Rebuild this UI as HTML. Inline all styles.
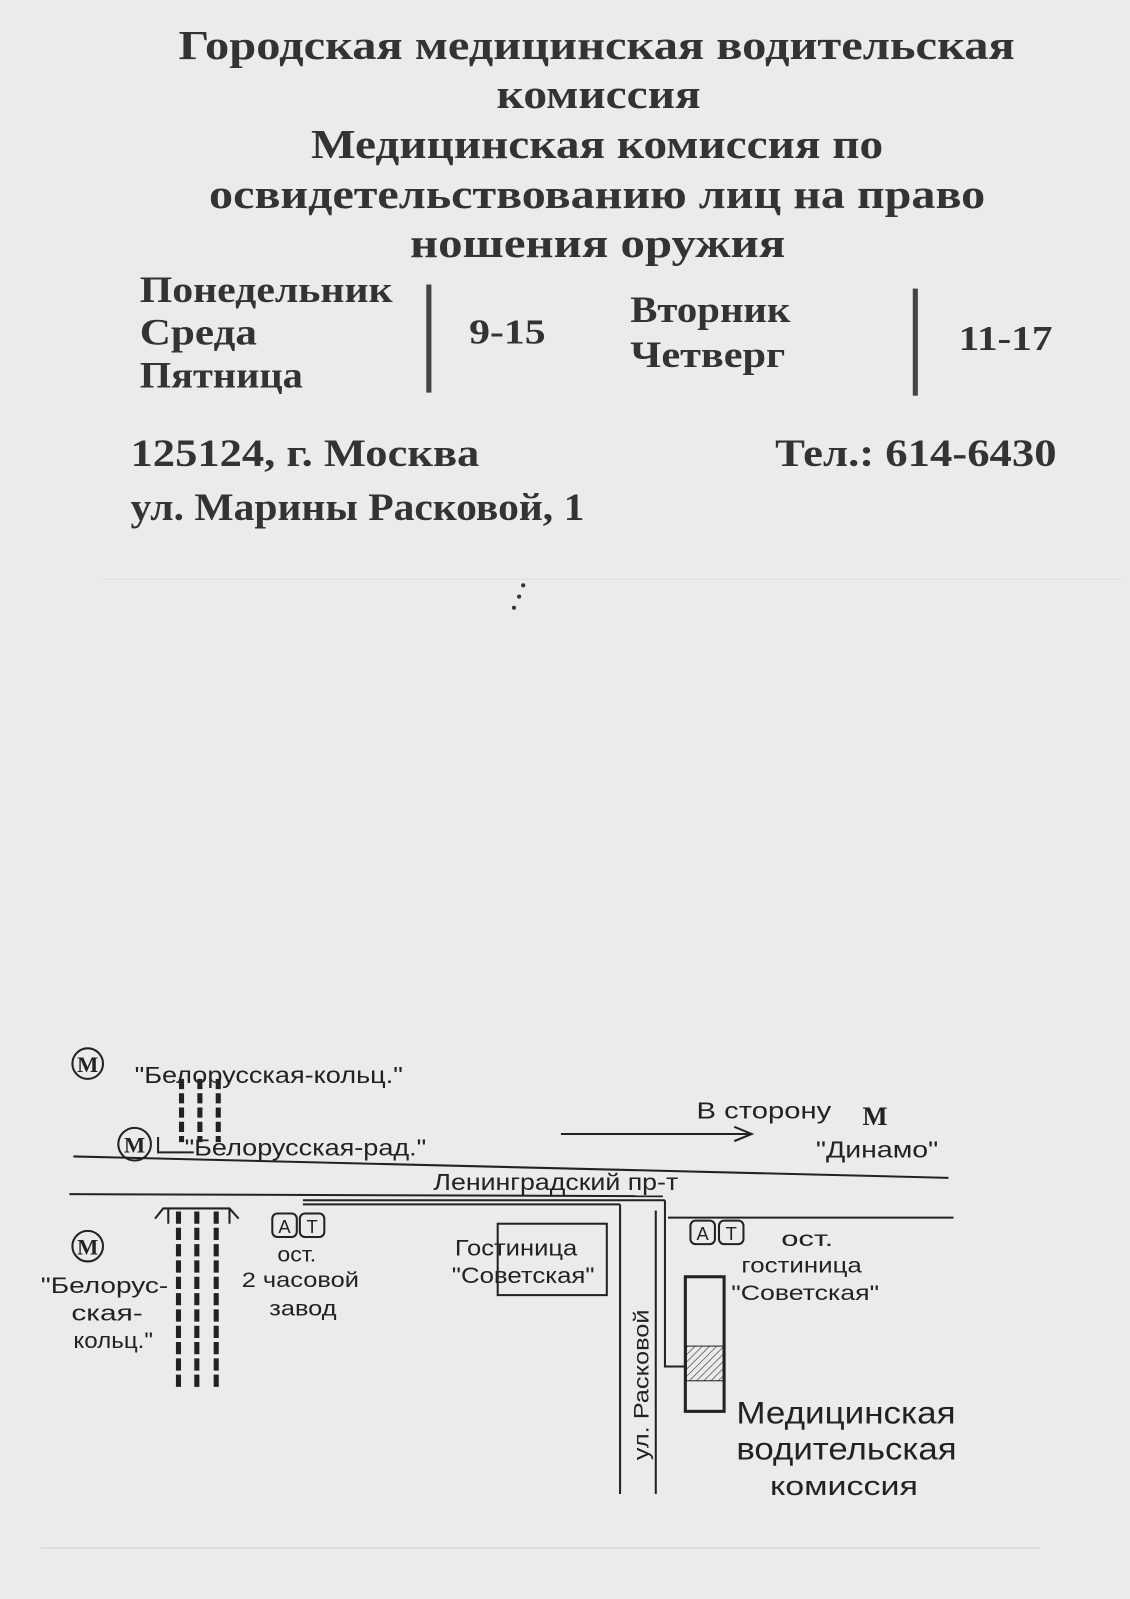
<!DOCTYPE html>
<html><head><meta charset="utf-8"><style>
html,body{margin:0;padding:0;background:#ebebeb;}
svg{display:block}
.t{font-family:"Liberation Serif",serif;font-weight:bold;fill:#333;}
.s{font-family:"Liberation Sans",sans-serif;fill:#222;}
</style></head><body>
<svg width="1130" height="1599" viewBox="0 0 1108 1568" preserveAspectRatio="none" xmlns="http://www.w3.org/2000/svg">
<rect width="1108" height="1568" fill="#ebebeb"/>
<g class="t" font-size="40">
<text x="175" y="58" textLength="820" lengthAdjust="spacingAndGlyphs">Городская медицинская водительская</text>
<text x="487" y="106" textLength="200" lengthAdjust="spacingAndGlyphs">комиссия</text>
<text x="305" y="155" textLength="561" lengthAdjust="spacingAndGlyphs">Медицинская комиссия по</text>
<text x="205" y="204" textLength="761" lengthAdjust="spacingAndGlyphs">освидетельствованию лиц на право</text>
<text x="402" y="252" textLength="368" lengthAdjust="spacingAndGlyphs">ношения оружия</text>
</g>
<g class="t" font-size="36">
<text x="137" y="296" textLength="248" lengthAdjust="spacingAndGlyphs">Понедельник</text>
<text x="137" y="338" textLength="115" lengthAdjust="spacingAndGlyphs">Среда</text>
<text x="137" y="380" textLength="160" lengthAdjust="spacingAndGlyphs">Пятница</text>
<text x="618" y="316" textLength="157" lengthAdjust="spacingAndGlyphs">Вторник</text>
<text x="618" y="360" textLength="152" lengthAdjust="spacingAndGlyphs">Четверг</text>
</g>
<g class="t" font-size="34" font-weight="normal">
<text x="460" y="337" textLength="75" lengthAdjust="spacingAndGlyphs">9-15</text>
<text x="940" y="343" textLength="92" lengthAdjust="spacingAndGlyphs">11-17</text>
</g>
<rect x="418" y="279" width="5" height="106" fill="#444"/>
<rect x="895" y="283" width="5" height="105" fill="#444"/>
<g class="t" font-size="38">
<text x="128" y="457" textLength="342" lengthAdjust="spacingAndGlyphs">125124, г. Москва</text>
<text x="128" y="510" textLength="445" lengthAdjust="spacingAndGlyphs">ул. Марины Расковой, 1</text>
<text x="760" y="457" textLength="276" lengthAdjust="spacingAndGlyphs">Тел.: 614-6430</text>
</g>
<line x1="100" y1="568" x2="1100" y2="568" stroke="#ddd" stroke-width="1"/>
<line x1="40" y1="1518" x2="1020" y2="1518" stroke="#ccc" stroke-width="1"/>

<g stroke="#222" fill="none" stroke-width="2">
<line x1="72" y1="1134" x2="930" y2="1155"/>
<line x1="68" y1="1171" x2="650" y2="1173"/>
<line x1="297" y1="1177" x2="652" y2="1177"/>
<line x1="297" y1="1181" x2="608" y2="1181"/>
<line x1="608" y1="1181" x2="608" y2="1465"/>
<line x1="643" y1="1187" x2="643" y2="1465"/>
<polyline points="652,1177 652,1340 672,1340"/>
<line x1="655" y1="1194" x2="935" y2="1194"/>
<line x1="550" y1="1112" x2="735" y2="1112"/>
<polyline points="720,1105 737,1112 720,1119"/>
<rect x="488" y="1200" width="107" height="70"/>
<rect x="672" y="1252" width="38" height="132" stroke-width="3"/>
<circle cx="86" cy="1043" r="15"/>
<circle cx="132" cy="1122" r="16"/>
<circle cx="86" cy="1222" r="15"/>
<rect x="267" y="1190" width="24" height="23" rx="5"/>
<rect x="294" y="1190" width="24" height="23" rx="5"/>
<rect x="677" y="1197" width="24" height="23" rx="5"/>
<rect x="705" y="1197" width="24" height="23" rx="5"/>
<g stroke-width="5"><line x1="178" y1="1058" x2="178" y2="1120" stroke-dasharray="10 4"/><line x1="196" y1="1058" x2="196" y2="1120" stroke-dasharray="10 4"/><line x1="214" y1="1058" x2="214" y2="1120" stroke-dasharray="10 4"/></g>
<polyline points="155,1115 155,1130 190,1130"/>
<g stroke-width="5"><line x1="175" y1="1188" x2="175" y2="1360" stroke-dasharray="12 4"/><line x1="193" y1="1188" x2="193" y2="1360" stroke-dasharray="12 4"/><line x1="212" y1="1188" x2="212" y2="1360" stroke-dasharray="12 4"/></g>
<polyline points="152,1195 160,1185 225,1185 234,1195"/>
<line x1="165" y1="1185" x2="165" y2="1200"/><line x1="225" y1="1185" x2="225" y2="1200"/>
</g>
<defs><pattern id="h" width="5" height="5" patternUnits="userSpaceOnUse" patternTransform="rotate(45)"><line x1="0" y1="0" x2="0" y2="5" stroke="#555" stroke-width="1.5"/></pattern></defs>
<rect x="673" y="1320" width="36" height="34" fill="url(#h)" stroke="#222" stroke-width="1"/>
<g font-family="Liberation Serif,serif" font-weight="bold" font-size="22" fill="#222" text-anchor="middle">
<text x="86" y="1051">M</text><text x="132" y="1130">M</text><text x="86" y="1230">M</text>
<text x="858" y="1103" font-size="26">M</text>
</g>
<g class="s" font-size="23">
<text x="132" y="1062" textLength="263" lengthAdjust="spacingAndGlyphs">"Белорусская-кольц."</text>
<text x="181" y="1133" textLength="237" lengthAdjust="spacingAndGlyphs">"Белорусская-рад."</text>
<text x="425" y="1167" textLength="240" lengthAdjust="spacingAndGlyphs">Ленинградский  пр-т</text>
<text x="683" y="1097" textLength="132" lengthAdjust="spacingAndGlyphs">В сторону</text>
<text x="800" y="1135" textLength="120" lengthAdjust="spacingAndGlyphs">"Динамо"</text>
<text x="279" y="1209" font-size="18" text-anchor="middle">A</text>
<text x="306" y="1209" font-size="18" text-anchor="middle">T</text>
<text x="689" y="1216" font-size="18" text-anchor="middle">A</text>
<text x="717" y="1216" font-size="18" text-anchor="middle">T</text>
<text x="272" y="1237" font-size="21" textLength="38" lengthAdjust="spacingAndGlyphs">ост.</text>
<text x="237" y="1262" font-size="21" textLength="115" lengthAdjust="spacingAndGlyphs">2 часовой</text>
<text x="264" y="1290" font-size="21" textLength="66" lengthAdjust="spacingAndGlyphs">завод</text>
<text x="40" y="1268" font-size="22" textLength="125" lengthAdjust="spacingAndGlyphs">"Белорус-</text>
<text x="70" y="1295" font-size="22" textLength="70" lengthAdjust="spacingAndGlyphs">ская-</text>
<text x="72" y="1322" font-size="22" textLength="78" lengthAdjust="spacingAndGlyphs">кольц."</text>
<text x="446" y="1231" font-size="22" textLength="120" lengthAdjust="spacingAndGlyphs">Гостиница</text>
<text x="443" y="1258" font-size="22" textLength="140" lengthAdjust="spacingAndGlyphs">"Советская"</text>
<text x="766" y="1222" font-size="21" textLength="51" lengthAdjust="spacingAndGlyphs">ост.</text>
<text x="727" y="1248" font-size="21" textLength="118" lengthAdjust="spacingAndGlyphs">гостиница</text>
<text x="717" y="1275" font-size="21" textLength="145" lengthAdjust="spacingAndGlyphs">"Советская"</text>
<text x="722" y="1396" font-size="31" textLength="215" lengthAdjust="spacingAndGlyphs">Медицинская</text>
<text x="722" y="1431" font-size="31" textLength="216" lengthAdjust="spacingAndGlyphs">водительская</text>
<text x="755" y="1466" font-size="26" textLength="145" lengthAdjust="spacingAndGlyphs">комиссия</text>
<text transform="translate(636,1432) rotate(-90)" font-size="21" textLength="148" lengthAdjust="spacingAndGlyphs">ул. Расковой</text>
</g>
<circle cx="504" cy="596" r="2" fill="#333"/><circle cx="509" cy="585" r="2" fill="#333"/><circle cx="513" cy="574" r="2" fill="#333"/>
</svg>
</body></html>
